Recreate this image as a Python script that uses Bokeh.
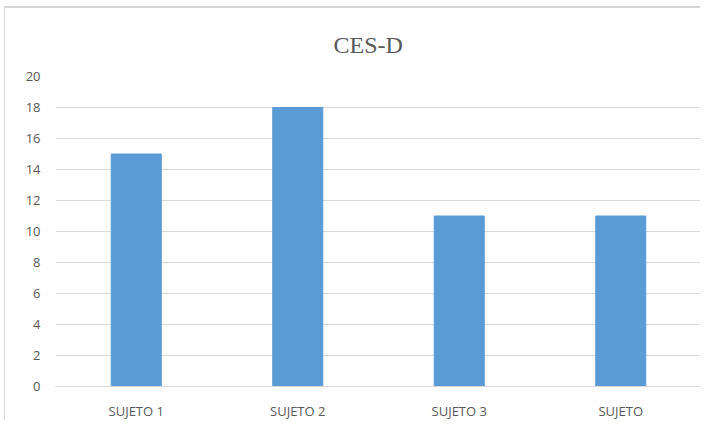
from bokeh.plotting import figure
from bokeh.models import FactorRange, Range1d, FixedTicker
from bokeh.embed import file_html
from bokeh.resources import INLINE

categories = ["SUJETO 1", "SUJETO 2", "SUJETO 3", "SUJETO"]
values = [15, 18, 11, 11]
y_ticks = [0, 2, 4, 6, 8, 10, 12, 14, 16, 18, 20]

p = figure(x_range=FactorRange(*categories, range_padding=0), y_range=Range1d(0, 20),
           width=696, height=414, output_backend="svg", toolbar_location=None,
           title="CES-D", min_border_left=50, min_border_right=0,
           min_border_top=68, min_border_bottom=30)
p.styles = {"border-top": "2px solid #d4d4d4", "border-left": "1px solid #d9d9d9",
            "margin-top": "6px", "margin-left": "4px"}

p.vbar(x=categories, top=values, width=0.31, fill_color="#5B9BD5", line_color="#5B9BD5")

p.title.text_font = "Liberation Serif"
p.title.text_font_size = "24px"
p.title.text_font_style = "normal"
p.title.text_color = "#595959"
p.title.align = "left"
p.title.offset = 278
p.title.standoff = 38

p.outline_line_color = None
p.background_fill_color = "white"
p.border_fill_color = "white"

p.xgrid.grid_line_color = None
p.ygrid.grid_line_color = "#D9D9D9"
p.ygrid.grid_line_width = 1
p.yaxis.ticker = FixedTicker(ticks=y_ticks)

for ax in (p.xaxis, p.yaxis):
    ax.major_label_text_font = "Open Sans"
    ax.major_label_text_font_size = "13px"
    ax.major_label_text_color = "#595959"
    ax.major_tick_line_color = None
    ax.minor_tick_line_color = None

p.yaxis.axis_line_color = None
p.yaxis.major_label_standoff = 9
p.xaxis.axis_line_color = "#D9D9D9"
p.xaxis.major_label_standoff = 9

open("out.html", "w").write(file_html(p, INLINE))
